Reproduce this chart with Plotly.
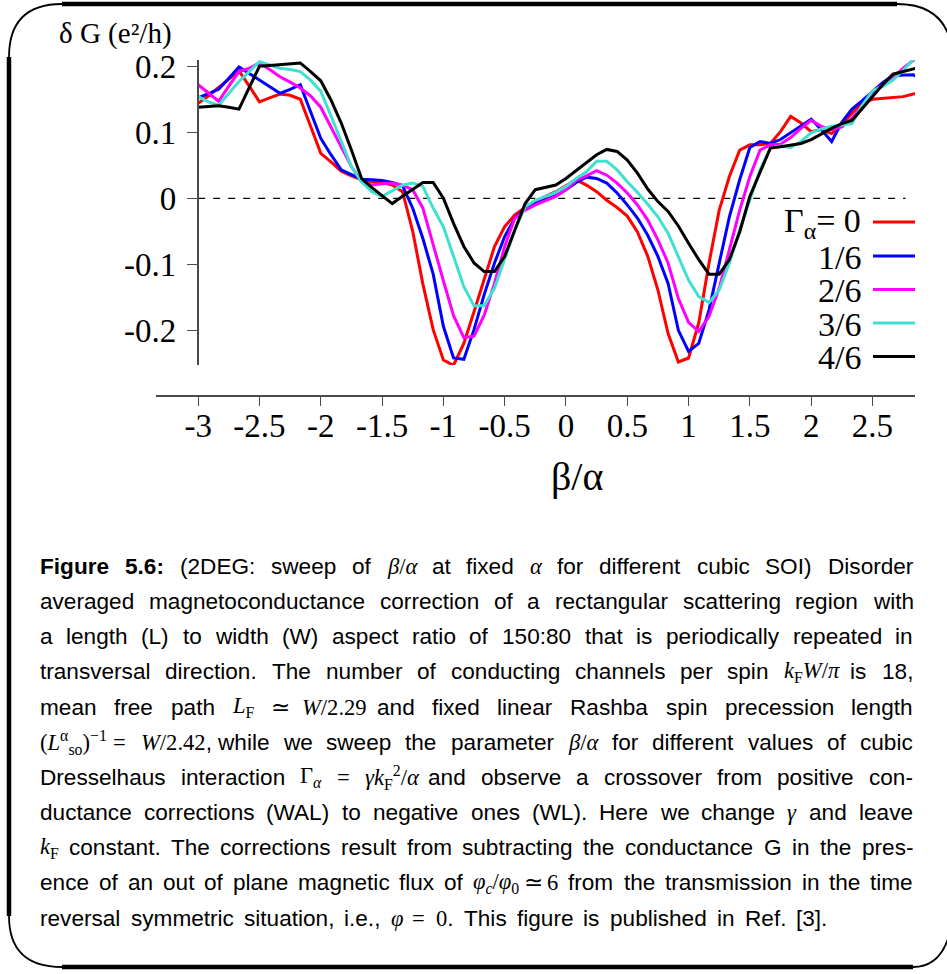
import plotly.graph_objects as go

# ---------------- data ----------------
beta_over_alpha = [
    -3.0, -2.917, -2.833, -2.75, -2.667, -2.583, -2.5, -2.417, -2.333, -2.25, -2.167, -2.083,
    -2.0, -1.917, -1.833, -1.75, -1.667, -1.583, -1.5, -1.417, -1.333, -1.25, -1.167, -1.083,
    -1.0, -0.917, -0.833, -0.75, -0.667, -0.583, -0.5, -0.417, -0.333, -0.25, -0.167, -0.083,
    0.0, 0.083, 0.167, 0.25, 0.333, 0.417, 0.5, 0.583, 0.667, 0.75, 0.833, 0.917,
    1.0, 1.083, 1.167, 1.25, 1.333, 1.417, 1.5, 1.583, 1.667, 1.75, 1.833, 1.917,
    2.0, 2.083, 2.167, 2.25, 2.333, 2.417, 2.5, 2.583, 2.667, 2.75, 2.833, 2.917,
]

dG_gamma_0 = [
    0.144, 0.155, 0.168, 0.181, 0.193, 0.170, 0.146, 0.152, 0.158, 0.156, 0.150, 0.109,
    0.068, 0.055, 0.041, 0.034, 0.028, 0.025, 0.024, 0.020, 0.010, -0.050, -0.130, -0.199,
    -0.245, -0.253, -0.220, -0.172, -0.121, -0.073, -0.043, -0.025, -0.014, -0.005, 0.003, 0.010,
    0.019, 0.028, 0.020, 0.010, -0.003, -0.014, -0.027, -0.051, -0.088, -0.139, -0.205, -0.248,
    -0.242, -0.189, -0.098, -0.018, 0.033, 0.073, 0.081, 0.081, 0.083, 0.101, 0.124, 0.114,
    0.101, 0.104, 0.098, 0.111, 0.129, 0.144, 0.150, 0.151, 0.152, 0.154, 0.158, 0.160,
]

dG_gamma_1_6 = [
    0.152, 0.158, 0.165, 0.182, 0.199, 0.189, 0.179, 0.169, 0.159, 0.165, 0.172, 0.131,
    0.091, 0.066, 0.043, 0.036, 0.029, 0.028, 0.027, 0.024, 0.019, -0.015, -0.061, -0.115,
    -0.194, -0.242, -0.244, -0.199, -0.146, -0.098, -0.058, -0.030, -0.015, -0.008, -0.002, 0.004,
    0.013, 0.024, 0.032, 0.030, 0.023, 0.008, -0.010, -0.030, -0.056, -0.088, -0.129, -0.200,
    -0.232, -0.220, -0.169, -0.098, -0.028, 0.028, 0.077, 0.086, 0.083, 0.089, 0.099, 0.110,
    0.120, 0.104, 0.086, 0.115, 0.135, 0.148, 0.162, 0.175, 0.186, 0.187, 0.187, 0.178,
]

dG_gamma_2_6 = [
    0.172, 0.160, 0.147, 0.170, 0.192, 0.197, 0.205, 0.195, 0.184, 0.176, 0.167, 0.155,
    0.138, 0.108, 0.078, 0.048, 0.025, 0.020, 0.022, 0.023, 0.020, 0.013, -0.015, -0.072,
    -0.125, -0.178, -0.211, -0.209, -0.177, -0.129, -0.073, -0.030, -0.018, -0.010, -0.003, 0.003,
    0.013, 0.027, 0.034, 0.042, 0.035, 0.023, 0.008, -0.010, -0.033, -0.063, -0.098, -0.152,
    -0.188, -0.202, -0.179, -0.136, -0.078, -0.018, 0.033, 0.073, 0.081, 0.082, 0.092, 0.106,
    0.118, 0.109, 0.104, 0.108, 0.121, 0.139, 0.162, 0.172, 0.182, 0.197, 0.209, 0.215,
]

dG_gamma_3_6 = [
    0.154, 0.146, 0.141, 0.159, 0.177, 0.192, 0.207, 0.202, 0.197, 0.195, 0.192, 0.179,
    0.162, 0.125, 0.085, 0.048, 0.025, 0.010, 0.003, 0.012, 0.020, 0.023, 0.018, -0.015,
    -0.043, -0.088, -0.134, -0.163, -0.163, -0.136, -0.093, -0.048, -0.013, -0.003, 0.003, 0.009,
    0.018, 0.030, 0.040, 0.056, 0.056, 0.043, 0.025, 0.009, -0.009, -0.028, -0.053, -0.090,
    -0.124, -0.149, -0.158, -0.139, -0.098, -0.048, -0.003, 0.043, 0.076, 0.079, 0.077, 0.086,
    0.099, 0.105, 0.109, 0.111, 0.113, 0.141, 0.163, 0.169, 0.179, 0.194, 0.210, 0.222,
]

dG_gamma_4_6 = [
    0.138, 0.139, 0.140, 0.138, 0.135, 0.168, 0.200, 0.201, 0.202, 0.204, 0.205, 0.192,
    0.178, 0.149, 0.114, 0.073, 0.030, 0.016, 0.004, -0.008, 0.003, 0.014, 0.024, 0.024,
    0.000, -0.038, -0.073, -0.098, -0.111, -0.111, -0.088, -0.048, -0.008, 0.013, 0.016, 0.020,
    0.030, 0.042, 0.053, 0.066, 0.074, 0.071, 0.058, 0.038, 0.014, -0.005, -0.020, -0.042,
    -0.068, -0.093, -0.115, -0.115, -0.093, -0.051, 0.003, 0.038, 0.076, 0.078, 0.081, 0.083,
    0.089, 0.098, 0.106, 0.113, 0.118, 0.136, 0.154, 0.172, 0.188, 0.192, 0.197, 0.200,
]

legend_labels = ["Γ<sub>α</sub>= 0", "1/6", "2/6", "3/6", "4/6"]
series_colors = ["#ff0000", "#0000ff", "#ff00ff", "#40e0d0", "#000000"]
series_values = [dG_gamma_0, dG_gamma_1_6, dG_gamma_2_6, dG_gamma_3_6, dG_gamma_4_6]

x_tick_values = [-3, -2.5, -2, -1.5, -1, -0.5, 0, 0.5, 1, 1.5, 2, 2.5]
x_tick_labels = ["-3", "-2.5", "-2", "-1.5", "-1", "-0.5", "0", "0.5", "1", "1.5", "2", "2.5"]
y_tick_values = [-0.2, -0.1, 0, 0.1, 0.2]
y_tick_labels = ["-0.2", "-0.1", "0", "0.1", "0.2"]

y_title = "δ G (e²/h)"
x_title = "β/α"

# ---------------- layout geometry (pixels) ----------------
W, H = 947, 974
PL, PR, PT, PB = 156, 915, 60, 396        # plot area
YAX_X, YAX_BOTTOM = 197.7, 365            # free-standing y axis


def px(x):
    return (x - PL) / (PR - PL)


def py(y):
    return (PB - y) / (PB - PT)


SERIF = "Liberation Serif, Times New Roman, serif"
SANS = "Liberation Sans, Arial, Helvetica, sans-serif"

fig = go.Figure()
for lab, col, vals in zip(legend_labels, series_colors, series_values):
    fig.add_trace(go.Scatter(x=beta_over_alpha, y=vals, mode="lines",
                             line=dict(color=col, width=3), name=lab,
                             showlegend=False, hoverinfo="skip"))

axis_col = "#4a4a4a"
fig.update_layout(
    width=W, height=H,
    margin=dict(l=PL, r=W - PR, t=PT, b=H - PB, autoexpand=False),
    paper_bgcolor="white", plot_bgcolor="rgba(0,0,0,0)",
    showlegend=False,
    xaxis=dict(range=[-3.344, 2.847], domain=[0, 1], anchor="free", position=0,
               showline=True, linecolor=axis_col, linewidth=2,
               ticks="outside", ticklen=9, tickwidth=1.3, tickcolor=axis_col,
               tickvals=x_tick_values, ticktext=x_tick_labels,
               tickfont=dict(family=SERIF, size=33, color="black"),
               ticklabelstandoff=-9,
               showgrid=False, zeroline=False),
    yaxis=dict(range=[-0.2526, 0.2095], domain=[py(YAX_BOTTOM), 1], anchor="free",
               position=px(YAX_X),
               showline=True, linecolor=axis_col, linewidth=1.5,
               ticks="outside", ticklen=10, tickwidth=1.3, tickcolor=axis_col,
               tickvals=y_tick_values, ticktext=y_tick_labels,
               tickfont=dict(family=SERIF, size=33, color="black"),
               ticklabelstandoff=4,
               showgrid=False, zeroline=False),
)

shapes = []
annotations = []

# dashed zero reference line
shapes.append(dict(type="line", xref="x", yref="y", x0=-3.0, x1=2.77, y0=0, y1=0,
                   line=dict(color="black", width=1.3, dash="7px,8px"), layer="below"))

# axis titles
annotations.append(dict(text=y_title, x=px(57), y=py(33), xref="paper", yref="paper",
                        xanchor="left", yanchor="middle", showarrow=False,
                        font=dict(family=SERIF, size=29, color="black")))
annotations.append(dict(text=x_title, x=px(577), y=py(476), xref="paper", yref="paper",
                        xanchor="center", yanchor="middle", showarrow=False,
                        font=dict(family=SERIF, size=40, color="black")))

# hand-placed legend (text right-aligned, sample line on the right)
leg_rows = [222, 256, 289.5, 323, 356.5]
for lab, col, yy in zip(legend_labels, series_colors, leg_rows):
    annotations.append(dict(text=lab, x=px(863), y=py(yy + 1), xref="paper", yref="paper",
                            xanchor="right", yanchor="middle", showarrow=False,
                            font=dict(family=SERIF, size=34, color="black")))
    shapes.append(dict(type="line", xref="paper", yref="paper",
                       x0=px(873), x1=px(915), y0=py(yy), y1=py(yy),
                       line=dict(color=col, width=3)))

# rounded frame
def P(x, y):
    return "%.5f,%.5f" % (px(x), py(y))


frame_thick = 4.5
frame_thin = 1.8
frame_paths = [
    ("M %s L %s" % (P(62, 4), P(897, 4)), frame_thick),
    ("M %s Q %s %s" % (P(62, 4), P(9, 4), P(9, 57)), frame_thin),
    ("M %s L %s" % (P(9, 57), P(9, 916)), frame_thick),
    ("M %s Q %s %s" % (P(9, 916), P(9, 967), P(62, 967)), frame_thin),
    ("M %s L %s" % (P(62, 967), P(913, 967)), frame_thick),
    ("M %s Q %s %s" % (P(913, 967), P(952, 967), P(954, 900)), frame_thin),
    ("M %s Q %s %s" % (P(897, 4), P(952, 4), P(953, 62)), frame_thin),
]
for path, w in frame_paths:
    shapes.append(dict(type="path", xref="paper", yref="paper", path=path,
                       line=dict(color="black", width=w)))

# ---------------- caption (justified word by word) ----------------
HELV = {
    " ": 278, "!": 278, "(": 333, ")": 333, ",": 278, "-": 333, ".": 278, "/": 278,
    ":": 278, ";": 278, "[": 278, "]": 278, "=": 584,
    "0": 556, "1": 556, "2": 556, "3": 556, "4": 556, "5": 556, "6": 556, "7": 556,
    "8": 556, "9": 556,
    "A": 667, "B": 667, "C": 722, "D": 722, "E": 667, "F": 611, "G": 778, "H": 722,
    "I": 278, "J": 500, "K": 667, "L": 556, "M": 833, "N": 722, "O": 778, "P": 667,
    "Q": 778, "R": 722, "S": 667, "T": 611, "U": 722, "V": 667, "W": 944, "X": 667,
    "Y": 667, "Z": 611,
    "a": 556, "b": 556, "c": 500, "d": 556, "e": 556, "f": 278, "g": 556, "h": 556,
    "i": 222, "j": 222, "k": 500, "l": 222, "m": 833, "n": 556, "o": 556, "p": 556,
    "q": 556, "r": 333, "s": 500, "t": 278, "u": 556, "v": 500, "w": 722, "x": 500,
    "y": 500, "z": 500,
}
HELV_BOLD = {"F": 611, "i": 278, "g": 611, "u": 611, "r": 389, "e": 556, "5": 556,
             ".": 278, "6": 556, ":": 333}

CAP_FS = 22.6


def sans_w(s, bold=False):
    tot = 0
    for c in s:
        if bold:
            tot += HELV_BOLD.get(c, HELV.get(c, 556))
        else:
            tot += HELV.get(c, 556)
    return tot / 1000.0 * CAP_FS


def B(t):
    return ("<b>%s</b>" % t, sans_w(t, True))


def M(html, em, tail=""):
    return ('<span style="font-family:Liberation Serif">%s</span>%s' % (html, tail),
            em * CAP_FS + sans_w(tail))


def words(s):
    return s.split()


caption_lines = [
    [B("Figure"), B("5.6:")] + words("(2DEG: sweep of") + [M("<i>β</i>/<i>α</i>", 1.3)]
    + words("at fixed") + [M("<i>α</i>", 0.5)] + words("for different cubic SOI) Disorder"),
    words("averaged magnetoconductance correction of a rectangular scattering region with"),
    words("a length (L) to width (W) aspect ratio of 150:80 that is periodically repeated in"),
    words("transversal direction. The number of conducting channels per spin")
    + [M("<i>k</i><sub>F</sub><i>W</i>/<i>π</i>", 2.3)] + words("is 18,"),
    words("mean free path") + [M("<i>L</i><sub>F</sub>", 0.95), M("≃", 0.6),
                              M("<i>W</i>/2.29", 2.5)]
    + words("and fixed linear Rashba spin precession length"),
    [M("(<i>L</i><sup>α</sup><sub>so</sub>)<sup>−1</sup>", 2.6), M("=", 0.6),
     M("<i>W</i>/2.42", 2.5, ",")] + words("while we sweep the parameter")
    + [M("<i>β</i>/<i>α</i>", 1.3)] + words("for different values of cubic"),
    words("Dresselhaus interaction") + [M("Γ<sub><i>α</i></sub>", 0.95), M("=", 0.6),
                                        M("<i>γk</i><sub>F</sub><sup>2</sup>/<i>α</i>", 2.1)]
    + words("and observe a crossover from positive con-"),
    words("ductance corrections (WAL) to negative ones (WL). Here we change")
    + [M("<i>γ</i>", 0.45)] + words("and leave"),
    [M("<i>k</i><sub>F</sub>", 0.8)]
    + words("constant. The corrections result from subtracting the conductance G in the pres-"),
    words("ence of an out of plane magnetic flux of")
    + [M("<i>φ</i><sub><i>c</i></sub>/<i>φ</i><sub>0</sub>", 1.8), M("≃", 0.6), M("6", 0.5)]
    + words("from the transmission in the time"),
    words("reversal symmetric situation, i.e.,") + [M("<i>φ</i>", 0.5), M("=", 0.6),
                                                     M("0", 0.5, ".")]
    + words("This figure is published in Ref. [3]."),
]

CAP_X0, CAP_X1 = 39, 912
CAP_Y0, CAP_DY = 566.5, 35.15
for i, line in enumerate(caption_lines):
    toks = [t if isinstance(t, tuple) else (t, sans_w(t)) for t in line]
    total = sum(w for _, w in toks)
    if i < len(caption_lines) - 1:
        gap = (CAP_X1 - CAP_X0 - total) / (len(toks) - 1)
    else:
        gap = 0.45 * CAP_FS
    x = CAP_X0
    yc = CAP_Y0 + i * CAP_DY
    for html, w in toks:
        annotations.append(dict(text=html, x=px(x), y=py(yc), xref="paper", yref="paper",
                                xanchor="left", yanchor="middle", showarrow=False,
                                borderpad=0, font=dict(family=SANS, size=CAP_FS, color="black")))
        x += w + gap

fig.update_layout(shapes=shapes, annotations=annotations)
fig.write_html("out.html")
